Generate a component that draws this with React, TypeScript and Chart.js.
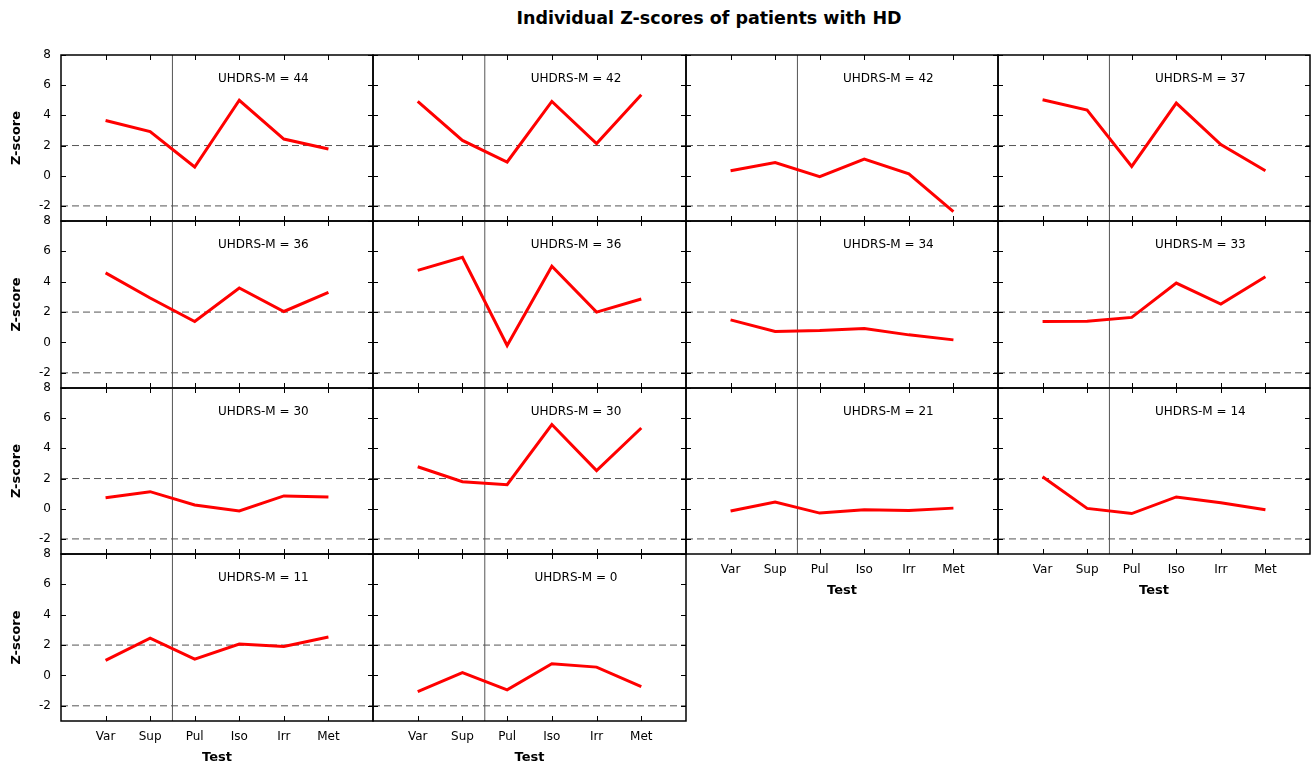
import React, { useEffect, useRef } from 'react';
import { Chart, registerables } from 'chart.js';

Chart.register(...registerables);
Chart.defaults.font.family = "'DejaVu Sans', sans-serif";
Chart.defaults.color = '#000';

// ---------- data ----------
const tests = ['Var', 'Sup', 'Pul', 'Iso', 'Irr', 'Met'];
const uhdrsM = [44, 42, 42, 37, 36, 36, 34, 33, 30, 30, 21, 14, 11, 0];

const zP1 = [3.66, 2.93, 0.58, 5.0, 2.43, 1.77];
const zP2 = [4.92, 2.34, 0.91, 4.92, 2.13, 5.36];
const zP3 = [0.33, 0.88, -0.06, 1.1, 0.12, -2.38];
const zP4 = [5.03, 4.35, 0.62, 4.81, 2.06, 0.33];
const zP5 = [4.58, 2.93, 1.38, 3.59, 2.04, 3.3];
const zP6 = [4.75, 5.61, -0.2, 5.02, 2.0, 2.86];
const zP7 = [1.49, 0.72, 0.78, 0.92, 0.5, 0.17];
const zP8 = [1.38, 1.4, 1.65, 3.91, 2.53, 4.33];
const zP9 = [0.73, 1.13, 0.25, -0.15, 0.85, 0.78];
const zP10 = [2.78, 1.79, 1.59, 5.58, 2.53, 5.35];
const zP11 = [-0.15, 0.44, -0.29, -0.07, -0.12, 0.04];
const zP12 = [2.12, 0.02, -0.32, 0.78, 0.4, -0.07];
const zP13 = [0.99, 2.46, 1.08, 2.07, 1.91, 2.53];
const zP14 = [-1.06, 0.19, -0.95, 0.77, 0.55, -0.74];
const zScores = [zP1, zP2, zP3, zP4, zP5, zP6, zP7, zP8, zP9, zP10, zP11, zP12, zP13, zP14];

const yTicks = [-2, 0, 2, 4, 6, 8];
const yMin = -3;
const yMax = 8;
const xMin = -1;
const xMax = 6;
const thresholds = [2, -2];
const splitAt = 1.5;
const labelAtX = 3.54;

const titleText = 'Individual Z-scores of patients with HD';
const xTitle = 'Test';
const yTitle = 'Z-score';

// ---------- layout ----------
const COL_EDGES = [61, 373, 686, 998, 1310];
const ROW_EDGES = [55, 221, 388, 554, 721];
const BOTTOM_PANELS = [10, 11, 12, 13];
const PAD = 10;
const LEFT_AXIS_W = 61;
const BOTTOM_AXIS_H = 46;

const panelDecor = {
  id: 'panelDecor',
  afterDraw(chart: any, _args: any, opts: any) {
    const { ctx, chartArea } = chart;
    const xs = chart.scales.x;
    const ys = chart.scales.y;
    const { left, right, top, bottom } = chartArea;
    ctx.save();
    ctx.strokeStyle = '#000';
    ctx.lineWidth = 1;
    const tl = 5;
    ctx.beginPath();
    tests.forEach((_t, k) => {
      const px = Math.round(xs.getPixelForValue(k)) + 0.5;
      ctx.moveTo(px, bottom);
      ctx.lineTo(px, bottom - tl);
      ctx.moveTo(px, top);
      ctx.lineTo(px, top + tl);
    });
    yTicks.forEach((v) => {
      const py = Math.round(ys.getPixelForValue(v)) + 0.5;
      ctx.moveTo(left, py);
      ctx.lineTo(left + tl, py);
      ctx.moveTo(right, py);
      ctx.lineTo(right - tl, py);
    });
    ctx.stroke();
    ctx.lineWidth = 1.5;
    ctx.strokeRect(left, top, right - left, bottom - top);
    ctx.fillStyle = '#000';
    ctx.font = "12px 'DejaVu Sans', sans-serif";
    ctx.textAlign = 'center';
    ctx.textBaseline = 'middle';
    ctx.fillText(opts.label, xs.getPixelForValue(labelAtX), top + 24);
    ctx.restore();
  },
};

function Panel({ index }: { index: number }) {
  const ref = useRef<HTMLCanvasElement>(null);
  const r = Math.floor(index / 4);
  const c = index % 4;
  const isLeft = c === 0;
  const isBottom = BOTTOM_PANELS.includes(index);
  const x0 = COL_EDGES[c];
  const x1 = COL_EDGES[c + 1];
  const y0 = ROW_EDGES[r];
  const y1 = ROW_EDGES[r + 1];
  const padL = isLeft ? LEFT_AXIS_W : PAD;
  const padB = isBottom ? BOTTOM_AXIS_H : PAD;
  const left = x0 - padL;
  const top = y0 - PAD;
  const width = x1 - x0 + padL + PAD;
  const height = y1 - y0 + PAD + padB;

  useEffect(() => {
    if (!ref.current) return;
    const values = zScores[index];
    const chart = new Chart(ref.current, {
      type: 'line',
      data: {
        datasets: [
          {
            data: values.map((v, k) => ({ x: k, y: v })),
            borderColor: '#ff0000',
            borderWidth: 3,
            pointRadius: 0,
            tension: 0,
          },
          ...thresholds.map((t) => ({
            data: [
              { x: xMin, y: t },
              { x: xMax, y: t },
            ],
            borderColor: '#555555',
            borderWidth: 1,
            borderDash: [7, 4],
            pointRadius: 0,
          })),
          {
            data: [
              { x: splitAt, y: yMin },
              { x: splitAt, y: yMax },
            ],
            borderColor: '#555555',
            borderWidth: 1,
            pointRadius: 0,
          },
        ],
      },
      options: {
        animation: false,
        responsive: false,
        devicePixelRatio: 1,
        layout: {
          padding: {
            left: isLeft ? 0 : PAD,
            right: PAD,
            top: PAD,
            bottom: isBottom ? 0 : PAD,
          },
        },
        plugins: {
          legend: { display: false },
          tooltip: { enabled: false },
          panelDecor: { label: `UHDRS-M = ${uhdrsM[index]}` },
        } as any,
        scales: {
          x: {
            type: 'linear',
            min: xMin,
            max: xMax,
            display: isBottom,
            afterBuildTicks: (s: any) => {
              s.ticks = tests.map((_t, k) => ({ value: k }));
            },
            afterFit: (s: any) => {
              s.height = isBottom ? BOTTOM_AXIS_H : 0;
            },
            ticks: {
              callback: (v: any) => tests[v] ?? '',
              font: { size: 12 },
              color: '#000',
              padding: 0,
              maxRotation: 0,
              autoSkip: false,
            },
            grid: { display: false, drawTicks: true, tickLength: 9 },
            border: { display: false },
            title: {
              display: true,
              text: xTitle,
              font: { size: 13, weight: 'bold' },
              color: '#000',
              padding: { top: 0, bottom: 2 },
            },
          },
          y: {
            type: 'linear',
            min: yMin,
            max: yMax,
            display: isLeft,
            afterBuildTicks: (s: any) => {
              s.ticks = yTicks.map((v) => ({ value: v }));
            },
            afterFit: (s: any) => {
              s.width = isLeft ? LEFT_AXIS_W : 0;
            },
            ticks: {
              font: { size: 12 },
              color: '#000',
              padding: 0,
            },
            grid: { display: false, drawTicks: true, tickLength: 10 },
            border: { display: false },
            title: {
              display: true,
              text: yTitle,
              font: { size: 13, weight: 'bold' },
              color: '#000',
              padding: { top: 9, bottom: 0 },
            },
          },
        },
      } as any,
      plugins: [panelDecor],
    });
    return () => chart.destroy();
  }, [index]);

  return (
    <div style={{ position: 'absolute', left, top, width, height }}>
      <canvas ref={ref} width={width} height={height} style={{ display: 'block' }} />
    </div>
  );
}

export default function App() {
  return (
    <div
      style={{
        position: 'fixed',
        left: 0,
        top: 0,
        width: 1311,
        height: 764,
        overflow: 'hidden',
        background: '#fff',
      }}
    >
      <div
        style={{
          position: 'absolute',
          left: 359,
          top: 8,
          width: 700,
          textAlign: 'center',
          fontFamily: "'DejaVu Sans', sans-serif",
          fontWeight: 'bold',
          fontSize: 17.5,
          lineHeight: '20px',
          color: '#000',
        }}
      >
        {titleText}
      </div>
      {zScores.map((_z, i) => (
        <Panel key={i} index={i} />
      ))}
    </div>
  );
}
